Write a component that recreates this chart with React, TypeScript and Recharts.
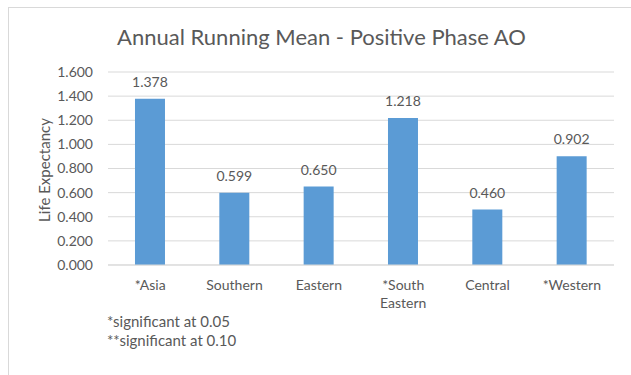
import React from 'react';
import { BarChart, Bar, XAxis, YAxis, CartesianGrid, LabelList } from 'recharts';

const regions = ['*Asia', 'Southern', 'Eastern', '*South Eastern', 'Central', '*Western'];
const meanValues = [1.378, 0.599, 0.65, 1.218, 0.46, 0.902];
const yTicks = [0, 0.2, 0.4, 0.6, 0.8, 1.0, 1.2, 1.4, 1.6];
const footnotes = ['*significant at 0.05', '**significant at 0.10'];

const data = regions.map((region, i) => ({ region, value: meanValues[i] }));

const FONT = 'Lato, "Open Sans", sans-serif';
const TEXT = '#595959';

// Category labels wrap onto a second line at spaces
const RegionTick = (props: any) => {
  const { x, y, payload } = props;
  const lines = String(payload.value).split(' ');
  return (
    <text x={x} y={y} textAnchor="middle" fill={TEXT} fontSize={14} fontFamily={FONT}>
      {lines.map((line, i) => (
        <tspan key={i} x={x} dy={i === 0 ? 25 : 18}>
          {line}
        </tspan>
      ))}
    </text>
  );
};

export default function App() {
  return (
    <div style={{ position: 'fixed', left: 0, top: 0, width: 631, height: 375, background: '#fff', fontFamily: FONT, overflow: 'hidden' }}>
      <div
        style={{
          position: 'absolute',
          left: 8,
          top: 7,
          width: 640,
          height: 400,
          borderLeft: '1px solid #d9d9d9',
          borderTop: '1px solid #d9d9d9',
        }}
      />
      <div
        style={{
          position: 'absolute',
          left: 0,
          width: 643,
          top: 24,
          textAlign: 'center',
          fontSize: 22,
          lineHeight: '26px',
          color: TEXT,
        }}
      >
        Annual Running Mean - Positive Phase AO
      </div>
      <div
        style={{
          position: 'absolute',
          left: 44,
          top: 170,
          transform: 'translate(-50%, -50%) rotate(-90deg)',
          fontSize: 15,
          color: TEXT,
          whiteSpace: 'nowrap',
        }}
      >
        Life Expectancy
      </div>
      <div style={{ position: 'absolute', left: 0, top: 0 }}>
        <BarChart
          width={631}
          height={375}
          data={data}
          margin={{ top: 72, right: 17, bottom: 80, left: 0 }}
          barCategoryGap="32%"
        >
          <CartesianGrid vertical={false} stroke="#d9d9d9" />
          <XAxis
            dataKey="region"
            height={30}
            axisLine={{ stroke: '#d9d9d9' }}
            tickLine={false}
            tickSize={0}
            tickMargin={0}
            interval={0}
            tick={<RegionTick />}
          />
          <YAxis
            width={108}
            domain={[0, 1.6]}
            ticks={yTicks}
            interval={0}
            axisLine={false}
            tickLine={false}
            tickSize={0}
            tickMargin={15}
            tickFormatter={(v: number) => v.toFixed(3)}
            tick={{ fill: TEXT, fontSize: 14, fontFamily: FONT }}
          />
          <Bar dataKey="value" fill="#5b9bd5" isAnimationActive={false}>
            <LabelList
              dataKey="value"
              position="top"
              offset={12}
              formatter={(v: any) => Number(v).toFixed(3)}
              style={{ fill: TEXT, fontSize: 14, fontFamily: FONT }}
            />
          </Bar>
        </BarChart>
      </div>
      {footnotes.map((note, i) => (
        <div
          key={note}
          style={{
            position: 'absolute',
            left: 107,
            top: 312 + i * 19,
            fontSize: 15,
            color: TEXT,
            whiteSpace: 'nowrap',
            lineHeight: '18px',
          }}
        >
          {note}
        </div>
      ))}
    </div>
  );
}
